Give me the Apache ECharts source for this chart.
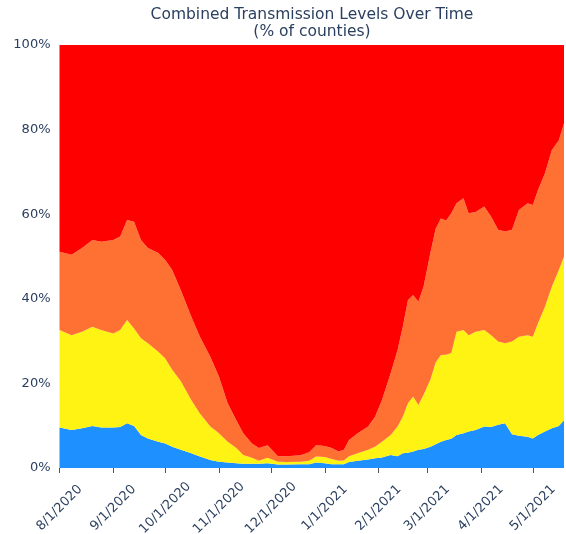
<!DOCTYPE html>
<html>
<head>
<meta charset="utf-8">
<script src="https://cdn.jsdelivr.net/npm/echarts@6/dist/echarts.min.js"></script>
<style>
  html, body { margin: 0; padding: 0; background: #fff; }
  #chart { width: 566px; height: 534px; }
</style>
</head>
<body>
<div id="chart"></div>
<script>
// Sample dates (roughly every 3-6 days)
const dates = [
  '2020-08-01','2020-08-08','2020-08-14','2020-08-20','2020-08-25','2020-09-01','2020-09-05','2020-09-09',
  '2020-09-13','2020-09-17','2020-09-21','2020-09-27','2020-10-01','2020-10-05','2020-10-10','2020-10-16',
  '2020-10-21','2020-10-27','2020-11-01','2020-11-06','2020-11-11','2020-11-15','2020-11-20','2020-11-24',
  '2020-11-29','2020-12-05','2020-12-10','2020-12-18','2020-12-23','2020-12-27','2021-01-01','2021-01-05',
  '2021-01-09','2021-01-12','2021-01-15','2021-01-20','2021-01-26','2021-01-30','2021-02-03','2021-02-08',
  '2021-02-12','2021-02-15','2021-02-18','2021-02-21','2021-02-24','2021-02-27','2021-03-03','2021-03-06',
  '2021-03-09','2021-03-12','2021-03-15','2021-03-18','2021-03-22','2021-03-25','2021-03-29','2021-04-03',
  '2021-04-07','2021-04-11','2021-04-15','2021-04-19','2021-04-23','2021-04-28','2021-05-01','2021-05-04',
  '2021-05-08','2021-05-12','2021-05-16','2021-05-19'
];

// Share of counties (%) at each transmission level
const low = [
  9.6, 9.0, 9.4, 9.9, 9.6, 9.6, 9.7, 10.6,
  9.9, 7.8, 7.0, 6.2, 5.8, 5.0, 4.3, 3.5,
  2.7, 1.9, 1.5, 1.3, 1.1, 1.0, 1.0, 1.0,
  1.1, 0.8, 0.8, 0.9, 0.9, 1.3, 1.1, 0.9,
  0.9, 0.9, 1.4, 1.7, 2.0, 2.3, 2.5, 3.1,
  2.8, 3.5, 3.6, 3.9, 4.3, 4.5, 5.0, 5.6,
  6.2, 6.6, 6.9, 7.8, 8.2, 8.6, 9.0, 9.8,
  9.7, 10.2, 10.6, 8.0, 7.6, 7.4, 7.0, 7.8,
  8.6, 9.4, 9.9, 11.3
];
const moderate = [
  23.0, 22.4, 22.8, 23.5, 23.0, 22.2, 22.9, 24.4,
  23.1, 22.9, 22.5, 21.3, 20.1, 18.2, 16.2, 12.6,
  10.2, 7.9, 6.7, 4.9, 3.6, 2.1, 1.4, 0.7,
  1.3, 0.7, 0.6, 0.6, 0.8, 1.4, 1.5, 1.2,
  0.8, 0.9, 1.4, 1.8, 2.3, 2.7, 3.7, 4.7,
  7.0, 8.6, 11.7, 13.0, 10.6, 12.8, 16.0, 19.4,
  20.5, 20.2, 20.3, 24.4, 24.4, 22.8, 23.2, 22.8,
  21.7, 19.7, 18.9, 21.9, 23.4, 24.0, 24.0, 26.4,
  29.5, 33.5, 36.9, 38.7
];
const substantial = [
  18.5, 19.0, 19.8, 20.5, 20.9, 22.1, 22.1, 23.6,
  25.2, 23.2, 22.5, 23.3, 23.3, 23.6, 21.5, 19.7,
  18.1, 16.5, 13.4, 9.1, 6.6, 5.1, 3.4, 3.0,
  3.0, 1.3, 1.4, 1.5, 2.0, 2.7, 2.6, 2.6,
  2.2, 2.5, 3.8, 4.7, 5.5, 7.1, 9.9, 14.6,
  18.1, 21.3, 24.4, 24.0, 24.4, 25.6, 30.0, 31.6,
  32.3, 31.7, 33.0, 30.4, 31.2, 28.8, 28.3, 29.2,
  28.0, 26.4, 26.4, 26.4, 30.0, 31.2, 31.2, 31.5,
  31.6, 32.3, 30.7, 31.5
];
const high = [
  48.9, 49.6, 48.0, 46.1, 46.5, 46.1, 45.3, 41.4,
  41.8, 46.1, 48.0, 49.2, 50.8, 53.2, 58.0, 64.2,
  69.0, 73.7, 78.4, 84.7, 88.7, 91.8, 94.2, 95.3,
  94.6, 97.2, 97.2, 97.0, 96.3, 94.6, 94.8, 95.3,
  96.1, 95.7, 93.4, 91.8, 90.2, 87.9, 83.9, 77.6,
  72.1, 66.6, 60.3, 59.1, 60.7, 57.1, 49.0, 43.4,
  41.0, 41.5, 39.8, 37.4, 36.2, 39.8, 39.5, 38.2,
  40.6, 43.7, 44.1, 43.7, 39.0, 37.4, 37.8, 34.3,
  30.3, 24.8, 22.5, 18.5
];

const yTicks = [0, 20, 40, 60, 80, 100];

const toTime = s => {
  const p = s.split('-').map(Number);
  return new Date(p[0], p[1] - 1, p[2]).getTime();
};

const textColor = '#2a3f5f';
const font = 'DejaVu Sans';

const makeSeries = (name, values, color) => ({
  name: name,
  type: 'line',
  stack: 'levels',
  data: dates.map((d, i) => [toTime(d), values[i]]),
  showSymbol: false,
  symbol: 'none',
  lineStyle: { width: 0 },
  areaStyle: { color: color, opacity: 1 },
  itemStyle: { color: color },
  emphasis: { disabled: true },
  animation: false
});

const chart = echarts.init(document.getElementById('chart'), null, { renderer: 'canvas' });
chart.setOption({
  animation: false,
  backgroundColor: '#ffffff',
  title: {
    text: 'Combined Transmission Levels Over Time\n(% of counties)',
    left: 312,
    textAlign: 'center',
    top: 6,
    padding: 0,
    textStyle: {
      fontFamily: font,
      fontSize: 15.5,
      fontWeight: 'normal',
      color: textColor,
      lineHeight: 17
    }
  },
  grid: {
    left: 59.5, right: 2, top: 45, bottom: 66,
    containLabel: false,
    outerBoundsMode: 'none'
  },
  xAxis: {
    type: 'time',
    min: toTime('2020-08-01'),
    max: toTime('2021-05-19'),
    splitNumber: 10,
    axisLine: { show: false },
    axisTick: {
      show: true,
      length: 5,
      lineStyle: { color: '#555' }
    },
    splitLine: { show: false },
    axisLabel: {
      rotate: 45,
      margin: 40,
      align: 'center',
      verticalAlign: 'middle',
      hideOverlap: false,
      showMinLabel: true,
      showMaxLabel: false,
      fontFamily: font,
      fontSize: 13,
      color: textColor,
      formatter: v => {
        const d = new Date(v);
        return (d.getMonth() + 1) + '/' + d.getDate() + '/' + d.getFullYear();
      }
    }
  },
  yAxis: {
    type: 'value',
    min: 0,
    max: 100,
    interval: 20,
    axisLine: { show: false },
    axisTick: { show: false },
    splitLine: { show: false },
    axisLabel: {
      margin: 9,
      fontFamily: font,
      fontSize: 13,
      color: textColor,
      formatter: v => yTicks.includes(v) ? v + '%' : ''
    }
  },
  series: [
    makeSeries('Low', low, '#1e90ff'),
    makeSeries('Moderate', moderate, '#fff314'),
    makeSeries('Substantial', substantial, '#ff7133'),
    makeSeries('High', high, '#ff0000')
  ]
});
</script>
</body>
</html>
